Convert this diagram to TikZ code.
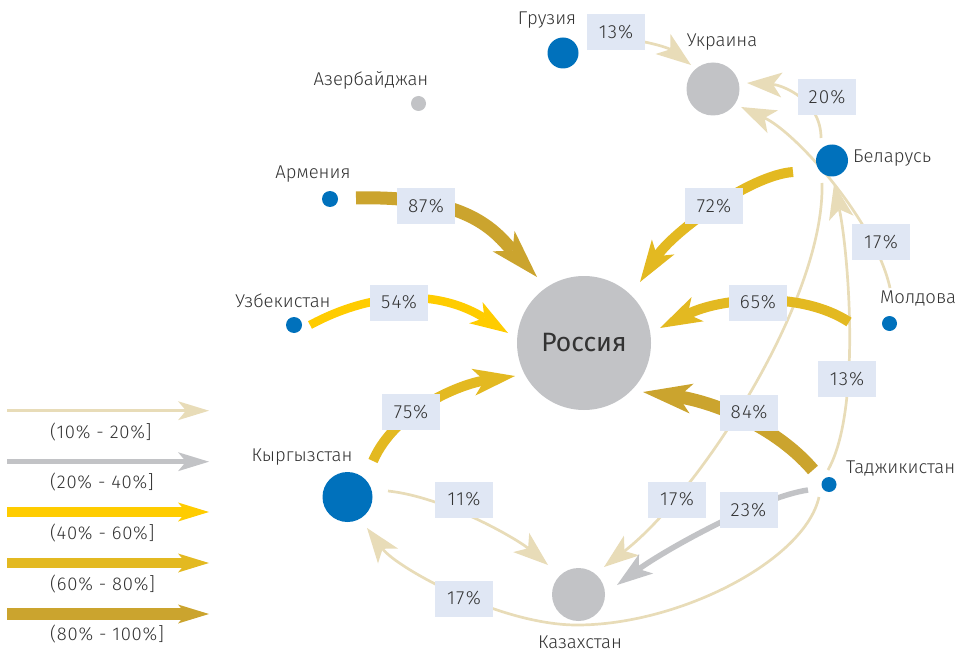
\documentclass[tikz,border=0pt]{standalone}
\usepackage{fontspec}
\setmainfont{Fira Sans Light}
\newfontfamily\rusfont{Fira Sans}
\usetikzlibrary{arrows.meta}
\definecolor{cA}{HTML}{E8DCB8}
\definecolor{cB}{HTML}{C2C3C6}
\definecolor{cC}{HTML}{FFCC00}
\definecolor{cD}{HTML}{E3B921}
\definecolor{cE}{HTML}{CBA42E}
\definecolor{blu}{HTML}{0071BC}
\definecolor{grc}{HTML}{C2C3C6}
\definecolor{boxc}{HTML}{E0E7F4}
\definecolor{txt}{HTML}{333333}
\tikzset{
  country/.style={circle, fill=blu, inner sep=0pt, minimum size=#1},
  hub/.style={circle, fill=grc, inner sep=0pt, minimum size=#1},
  cname/.style={font=\fontsize{18.5}{20}\selectfont, text=txt, inner sep=0pt},
  pct/.style={fill=boxc, minimum width=58pt, minimum height=36pt, inner sep=0pt,
              font=\fontsize{19}{21}\selectfont\addfontfeatures{LetterSpace=6}, text=txt},
  leg/.style={font=\fontsize{18.5}{20}\selectfont\addfontfeatures{LetterSpace=4}, text=txt, inner sep=0pt, anchor=west},
  fA/.style={draw=cA, line width=2.7pt, -{Stealth[length=35pt,width=25pt,inset=9pt,line width=0pt]}},
  fB/.style={draw=cB, line width=5.5pt, -{Stealth[length=36pt,width=24pt,inset=9pt,line width=0pt]}},
  fC/.style={draw=cC, line width=8.5pt, -{Stealth[length=38pt,width=25pt,inset=10pt,line width=0pt]}},
  fD/.style={draw=cD, line width=10pt, -{Stealth[length=42pt,width=27pt,inset=11pt,line width=0pt]}},
  fE/.style={draw=cE, line width=13pt, -{Stealth[length=49pt,width=30pt,inset=13pt,line width=0pt]}},
  lgtip/.style={-{Stealth[length=31pt,width=19pt,inset=8pt,line width=0pt]}},
}
\begin{document}
\begin{tikzpicture}[x=1pt,y=-1pt]
\useasboundingbox (0,0) rectangle (957,652);

% ---- connector end points
\coordinate (ge-s) at (598,38);   \coordinate (ge-e) at (691,65);
\coordinate (by-s1) at (821,138); \coordinate (ua-e1) at (747,83);
\coordinate (md-s1) at (890,288); \coordinate (ua-e2) at (741,107);
\coordinate (tj-s1) at (828,470); \coordinate (by-e) at (834,184);
\coordinate (by-s2) at (822,183); \coordinate (kz-e1) at (604,567);
\coordinate (tj-s2) at (808,490); \coordinate (kz-e2) at (617,585);
\coordinate (tj-s3) at (819,497); \coordinate (kg-e) at (367,528);
\coordinate (kg-s1) at (388,491); \coordinate (kz-e3) at (548,565);
\coordinate (kg-s2) at (373,461); \coordinate (ru-e1) at (515,376);
\coordinate (am-s) at (356,198);  \coordinate (ru-e2) at (537,277);
\coordinate (uz-s) at (310,325);  \coordinate (ru-e3) at (508,333);
\coordinate (by-s3) at (793,172); \coordinate (ru-e4) at (640,282);
\coordinate (md-s2) at (849,322); \coordinate (ru-e5) at (660,328);
\coordinate (tj-s4) at (813,470); \coordinate (ru-e6) at (643,392);

% ---- connectors
\draw[fA] (ge-s) .. controls (630,36) and (667,47) .. (ge-e);
\draw[fA] (by-s1) .. controls (821,100) and (782,85) .. (ua-e1);
\draw[fA] (md-s1) .. controls (875,220) and (795,132) .. (ua-e2);
\draw[fA] (tj-s1) .. controls (862,410) and (848,250) .. (by-e);
\draw[fA] (by-s2) .. controls (825,300) and (699,493) .. (kz-e1);
\draw[fB] (tj-s2) .. controls (760,497) and (665,550) .. (kz-e2);
\draw[fA] (tj-s3) .. controls (805,560) and (680,625) .. (577,625)
                 .. controls (500,625) and (397,568) .. (kg-e);
\draw[fA] (kg-s1) .. controls (445,497) and (517,539) .. (kz-e3);
\draw[fD] (kg-s2) .. controls (395,410) and (461,384) .. (ru-e1);
\draw[fE] (am-s) .. controls (470,195) and (496,233) .. (ru-e2);
\draw[fC] (uz-s) .. controls (375,290) and (440,290) .. (ru-e3);
\draw[fD] (by-s3) .. controls (750,175) and (673,232) .. (ru-e4);
\draw[fD] (md-s2) .. controls (800,290) and (720,298) .. (ru-e5);
\draw[fE] (tj-s4) .. controls (770,420) and (702,400) .. (ru-e6);

% ---- circles
\node[hub=134pt] (ru) at (584,343) {};
\node[font=\rusfont\fontsize{26.5}{29}\selectfont, text=txt] (rulbl) at (ru.center) {Россия};
\node[hub=53pt] (ua) at (713,89) {};
\node[hub=53pt] (kz) at (578.5,594.5) {};
\node[hub=15pt] (az) at (418.5,103.5) {};
\node[country=50pt] (kg) at (347.5,497) {};
\node[country=31pt] (ge) at (563,53) {};
\node[country=32pt] (by) at (832,160.5) {};
\node[country=16pt] (am) at (330,199) {};
\node[country=16pt] (uz) at (294,325) {};
\node[country=15pt] (md) at (889.5,323.5) {};
\node[country=15pt] (tj) at (829,484.5) {};

% ---- country names
\node[cname] (gelbl) at (547,20) {Грузия};
\node[cname] (ualbl) at (722,42) {Украина};
\node[cname] (azlbl) at (371,80) {Азербайджан};
\node[cname] (amlbl) at (313,174) {Армения};
\node[cname] (uzlbl) at (283,301) {Узбекистан};
\node[cname, anchor=west] (bylbl) at (853,158) {Беларусь};
\node[cname] (mdlbl) at (918,299) {Молдова};
\node[cname, anchor=west] (tjlbl) at (846,469) {Таджикистан};
\node[cname] (kglbl) at (302,457) {Кыргызстан};
\node[cname] (kzlbl) at (580,642) {Казахстан};

% ---- percentage labels
\node[pct] (p1) at (616,32.5) {13\%};
\node[pct] (p2) at (827,97.5) {20\%};
\node[pct] (p3) at (881,242) {17\%};
\node[pct] (p4) at (847,379) {13\%};
\node[pct] (p5) at (714,206) {72\%};
\node[pct] (p6) at (758,302.5) {65\%};
\node[pct] (p7) at (749,412.5) {84\%};
\node[pct] (p8) at (426,206.5) {87\%};
\node[pct] (p9) at (399,302.5) {54\%};
\node[pct] (p10) at (411,412) {75\%};
\node[pct] (p11) at (464,499.5) {11\%};
\node[pct] (p12) at (677,499.5) {17\%};
\node[pct] (p13) at (748.5,510) {23\%};
\node[pct] (p14) at (464,598.5) {17\%};

% ---- legend
\coordinate (l1a) at (7,410.7);  \coordinate (l1b) at (209,410.7);
\coordinate (l2a) at (7,461.7);  \coordinate (l2b) at (209,461.7);
\coordinate (l3a) at (7,512);    \coordinate (l3b) at (209,512);
\coordinate (l4a) at (7,563);    \coordinate (l4b) at (209,563);
\coordinate (l5a) at (7,614);    \coordinate (l5b) at (209,614);
\draw[draw=cA, line width=2.7pt, lgtip] (l1a) -- (l1b);
\draw[draw=cB, line width=5pt, lgtip] (l2a) -- (l2b);
\draw[draw=cC, line width=9.3pt, lgtip] (l3a) -- (l3b);
\draw[draw=cD, line width=9.3pt, lgtip] (l4a) -- (l4b);
\draw[draw=cE, line width=11.7pt, lgtip] (l5a) -- (l5b);
\node[leg] (t1) at (50,432) {(10\% - 20\%]};
\node[leg] (t2) at (50,482.5) {(20\% - 40\%]};
\node[leg] (t3) at (50,533) {(40\% - 60\%]};
\node[leg] (t4) at (50,584) {(60\% - 80\%]};
\node[leg] (t5) at (50,634) {(80\% - 100\%]};
\end{tikzpicture}
\end{document}
